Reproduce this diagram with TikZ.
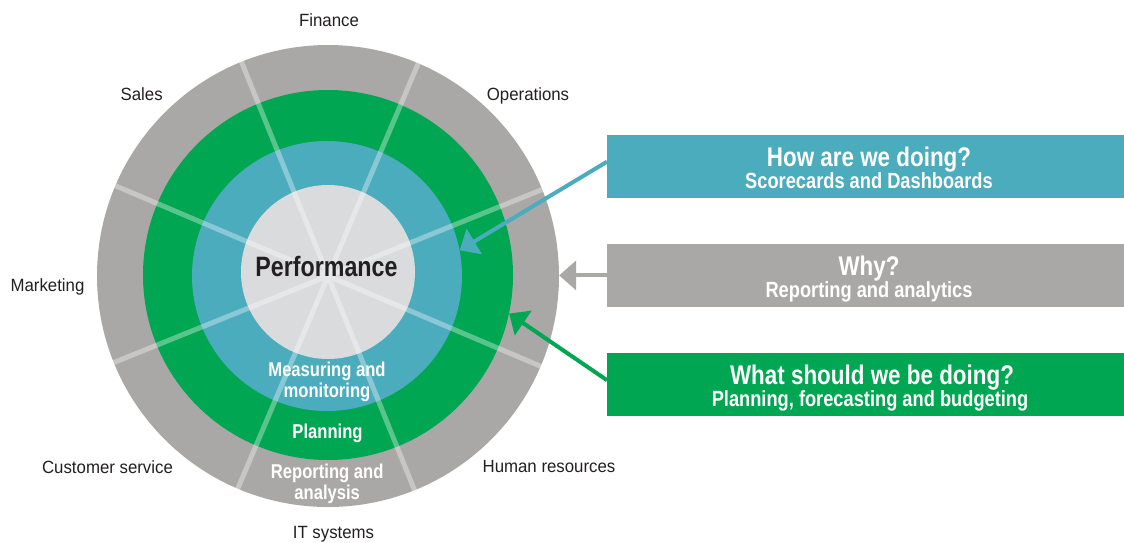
\documentclass[tikz,border=0pt]{standalone}
\usepackage{fontspec}
\setmainfont{Liberation Sans}[FakeStretch=0.95]
\newfontfamily\boldcond{Liberation Sans}[FakeStretch=0.83]
\usetikzlibrary{arrows.meta}
\definecolor{ringgray}{RGB}{169,168,166}
\definecolor{ringgreen}{RGB}{0,166,81}
\definecolor{ringblue}{RGB}{75,172,189}
\definecolor{coregray}{RGB}{218,219,221}
\definecolor{labeltext}{RGB}{35,31,32}
\begin{document}
\begin{tikzpicture}[x=1pt, y=-1pt,
    ring/.style={circle, inner sep=0pt, draw=none},
    spoke/.style={white, opacity=0.35, line width=5pt},
    area/.style={text=labeltext, font=\fontsize{17.7}{20}\selectfont, anchor=base, inner sep=0pt},
    tag/.style={text=white, font=\boldcond\bfseries\fontsize{20}{21}\selectfont, align=center, inner sep=0pt},
    banner/.style={minimum width=517pt, minimum height=63pt, anchor=west, inner sep=0pt},
    headline/.style={text=white, font=\boldcond\bfseries\fontsize{27}{27}\selectfont, anchor=base, inner sep=0pt},
    subline/.style={text=white, font=\boldcond\bfseries\fontsize{22}{22}\selectfont, anchor=base, inner sep=0pt},
    pointer/.style={line width=4pt, -{Triangle[length=17pt,width=29pt]}}]
    \useasboundingbox (0,0) rectangle (1124,542);

    \node[ring, fill=ringgray, minimum size=462pt] (outer) at (328,276) {};
    \node[ring, fill=ringgreen, minimum size=370pt] (planring) at (328,275) {};
    \node[ring, fill=ringblue, minimum size=270pt] (measurering) at (327,276) {};
    \node[ring, fill=coregray, minimum size=174pt] (core) at (328,272) {};

    \draw[spoke] \foreach \a in {22.5,67.5,...,337.5} {(outer.center) -- (outer.\a)};

    \node[text=labeltext, font=\boldcond\bfseries\fontsize{28}{28}\selectfont, anchor=base, inner sep=0pt] (perf) at (326.5,276.7) {Performance};
    \node[tag] (measuring) at (327,382.2) {Measuring and\\monitoring};
    \node[tag, anchor=base] (planning) at (327.5,438.3) {Planning};
    \node[tag] (reporting) at (327.2,483.6) {Reporting and\\analysis};

    \node[area] (finance) at (329,26.7) {Finance};
    \node[area] (sales) at (141.7,100) {Sales};
    \node[area] (operations) at (528,100) {Operations};
    \node[area] (marketing) at (47.5,291.7) {Marketing};
    \node[area] (custserv) at (107.5,473.3) {Customer service};
    \node[area] (hr) at (549,472.3) {Human resources};
    \node[area] (itsys) at (333.5,538) {IT systems};

    \node[banner, fill=ringblue] (howbox) at (607,166.4) {};
    \node[banner, fill=ringgray] (whybox) at (607,275.4) {};
    \node[banner, fill=ringgreen] (whatbox) at (607,384.2) {};

    \node[headline] (howtitle) at (869,166.4) {How are we doing?};
    \node[subline] (howsub) at (869,188.4) {Scorecards and Dashboards};
    \node[headline] (whytitle) at (869,275.4) {Why?};
    \node[subline] (whysub) at (869,297.4) {Reporting and analytics};
    \node[headline] (whattitle) at (872,384.2) {What should we be doing?};
    \node[subline] (whatsub) at (870,406.2) {Planning, forecasting and budgeting};

    \draw[pointer, ringblue] ([yshift=4.7pt]howbox.west) -- (measurering.11);
    \draw[pointer, ringgray] (whybox.west) -- (whybox.west -| outer.east);
    \draw[pointer, ringgreen] ([yshift=4pt]whatbox.west) -- (planring.-12);
\end{tikzpicture}
\end{document}
